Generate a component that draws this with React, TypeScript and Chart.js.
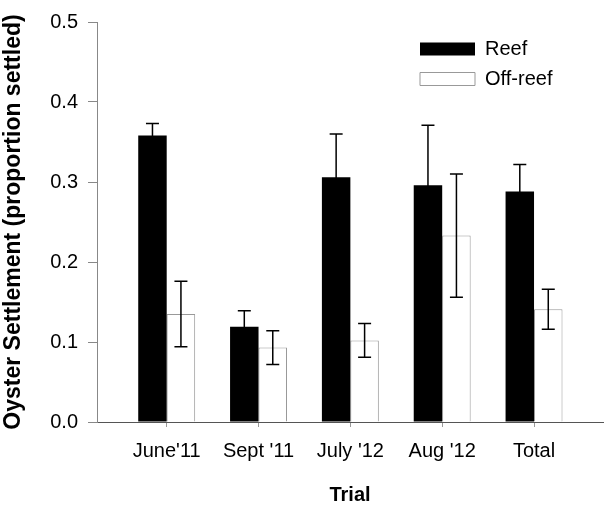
import React, { useEffect, useRef } from "react";
import { Chart, registerables } from "chart.js";

Chart.register(...registerables);

const categories = ["June'11", "Sept '11", "July '12", "Aug '12", "Total"];
const reefValues = [0.358, 0.119, 0.306, 0.296, 0.288];
const reefErrors = [0.015, 0.020, 0.054, 0.075, 0.034];
const offReefValues = [0.135, 0.093, 0.102, 0.233, 0.141];
const offReefErrors = [0.041, 0.021, 0.021, 0.077, 0.025];
const yTicks = [0, 0.1, 0.2, 0.3, 0.4, 0.5];

const FONT = "'Liberation Sans', Arial, Helvetica, sans-serif";

const errorBarPlugin = {
  id: "errorBars",
  afterDatasetsDraw(chart: any) {
    const ctx = chart.ctx;
    const yScale = chart.scales.y;
    chart.data.datasets.forEach((ds: any, di: number) => {
      const meta = chart.getDatasetMeta(di);
      const errs: number[] = ds.errors || [];
      meta.data.forEach((el: any, i: number) => {
        const v = ds.data[i].y;
        const e = errs[i];
        if (e == null) return;
        const x = el.x;
        const yt = yScale.getPixelForValue(v + e);
        const yb = yScale.getPixelForValue(v - e);
        ctx.save();
        ctx.strokeStyle = "#000";
        ctx.lineWidth = 1.5;
        ctx.beginPath();
        ctx.moveTo(x, yt);
        ctx.lineTo(x, yb);
        ctx.moveTo(x - 6.5, yt);
        ctx.lineTo(x + 6.5, yt);
        ctx.moveTo(x - 6.5, yb);
        ctx.lineTo(x + 6.5, yb);
        ctx.stroke();
        ctx.restore();
      });
    });
  },
};

const legendPlacePlugin = {
  id: "legendPlace",
  afterLayout(chart: any) {
    const lg = chart.legend;
    if (lg) {
      const w = lg.width;
      lg.left = 410;
      lg.right = 410 + w;
      lg.top = 29;
    }
  },
};

export default function App() {
  const ref = useRef<HTMLCanvasElement | null>(null);
  useEffect(() => {
    if (!ref.current) return;
    const chart = new Chart(ref.current, {
      type: "bar",
      data: {
        datasets: [
          {
            label: "Reef",
            data: reefValues.map((v, i) => ({ x: i, y: v })),
            errors: reefErrors,
            backgroundColor: "#000",
            borderColor: "#000",
            borderWidth: 0,
          } as any,
          {
            label: "Off-reef",
            data: offReefValues.map((v, i) => ({ x: i, y: v })),
            errors: offReefErrors,
            backgroundColor: "#fff",
            borderColor: "#999",
            borderWidth: 1,
          } as any,
        ],
      },
      options: {
        responsive: false,
        animation: false,
        categoryPercentage: 0.62,
        barPercentage: 1.0,
        layout: { padding: { left: 0, top: 17, right: 6, bottom: 0 } },
        font: { family: FONT },
        plugins: {
          tooltip: { enabled: false },
          legend: {
            position: "chartArea",
            align: "start",
            labels: {
              boxWidth: 55,
              boxHeight: 13,
              padding: 10,
              color: "#000",
              font: { family: FONT, size: 20 },
            },
          },
        },
        scales: {
          x: {
            type: "linear",
            min: -0.759,
            max: 4.751,
            offset: false,
            afterBuildTicks: (s: any) => {
              s.ticks = categories.map((_, i) => ({ value: i }));
            },
            afterFit: (s: any) => {
              s.height = 88;
            },
            ticks: {
              autoSkip: false,
              maxRotation: 0,
              padding: 12,
              color: "#000",
              font: { family: FONT, size: 20 },
              callback: (v: any) => categories[v] ?? "",
            },
            grid: {
              offset: false,
              drawOnChartArea: false,
              drawTicks: true,
              tickLength: 5,
              color: "#999",
            },
            border: { color: "#555", width: 1 },
            title: {
              display: true,
              text: "Trial",
              color: "#000",
              font: { family: FONT, size: 20, weight: "bold" },
              padding: { top: 0, bottom: 3 },
            },
          },
          y: {
            min: 0,
            max: 0.5,
            afterBuildTicks: (s: any) => {
              s.ticks = yTicks.map((v) => ({ value: v }));
            },
            afterFit: (s: any) => {
              s.width = 97;
            },
            ticks: {
              padding: 10,
              color: "#000",
              font: { family: FONT, size: 20 },
              callback: (v: any) => Number(v).toFixed(1),
            },
            grid: {
              offset: false,
              drawOnChartArea: false,
              drawTicks: true,
              tickLength: 9,
              color: "#888",
            },
            border: { color: "#888", width: 1 },
            title: {
              display: true,
              text: "Oyster Settlement (proportion settled)",
              color: "#000",
              font: { family: FONT, size: 23, weight: "bold" },
              padding: { top: 0, bottom: 0 },
            },
          },
        },
      } as any,
      plugins: [errorBarPlugin, legendPlacePlugin],
    });
    return () => chart.destroy();
  }, []);
  return (
    <div style={{ position: "absolute", left: 0, top: 0, width: 609, height: 510, background: "#fff" }}>
      <canvas ref={ref} width={609} height={510} style={{ display: "block" }} />
    </div>
  );
}
